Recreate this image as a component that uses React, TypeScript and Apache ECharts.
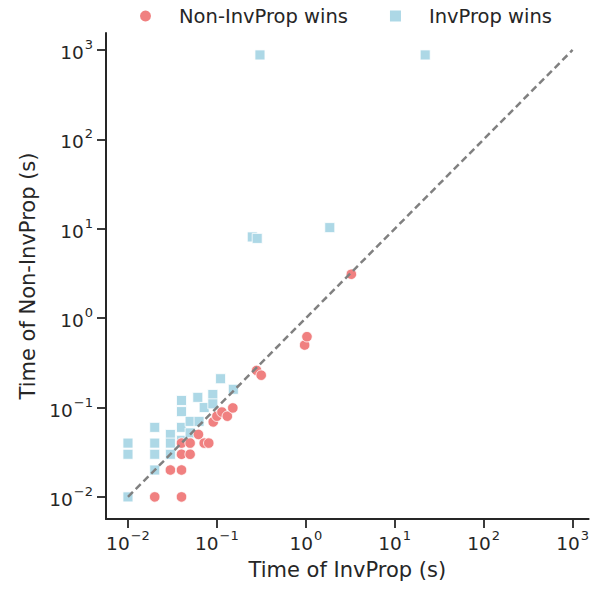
import React, { useEffect, useRef } from "react";
import * as echarts from "echarts";

// Seconds
const invPropX = [0.01, 0.01, 0.01, 0.02, 0.02, 0.02, 0.02, 0.03, 0.03, 0.03, 0.04, 0.04, 0.04, 0.04, 0.05, 0.05, 0.061, 0.063, 0.072, 0.09, 0.09, 0.11, 0.153, 0.25, 0.284, 0.305, 1.86, 22];
const invPropY = [0.04, 0.03, 0.01, 0.06, 0.04, 0.03, 0.02, 0.05, 0.04, 0.03, 0.12, 0.09, 0.06, 0.043, 0.07, 0.052, 0.13, 0.07, 0.1, 0.14, 0.11, 0.21, 0.16, 8.1, 7.8, 880, 10.3, 880];

const nonInvX = [0.02, 0.04, 0.03, 0.04, 0.04, 0.05, 0.04, 0.05, 0.062, 0.072, 0.081, 0.091, 0.1, 0.114, 0.131, 0.151, 0.28, 0.315, 0.97, 1.03, 3.25];
const nonInvY = [0.01, 0.01, 0.02, 0.02, 0.03, 0.03, 0.04, 0.04, 0.05, 0.04, 0.04, 0.069, 0.08, 0.089, 0.08, 0.099, 0.26, 0.23, 0.5, 0.62, 3.1];

const diagonal = [0.01, 1000];
const tickExponents = [-2, -1, 0, 1, 2, 3];

const FONT = "DejaVu Sans";
const TEXT = "#262626";

const lg = (v: number) => Math.log10(v);

const labelFmt = (v: number) => {
  const e = Math.round(v);
  const s = e < 0 ? "\u2212" + -e : String(e);
  return `{b|10}{s|${s}}`;
};

const rich = {
  b: { fontSize: 18.5, fontFamily: FONT, color: TEXT, lineHeight: 24, verticalAlign: "bottom" },
  s: { fontSize: 13, fontFamily: FONT, color: TEXT, lineHeight: 24, verticalAlign: "top", padding: [0, 0, 10, 1] },
};

export default function App() {
  const ref = useRef<HTMLDivElement>(null);
  useEffect(() => {
    if (!ref.current) return;
    const chart = echarts.init(ref.current, undefined, { renderer: "svg" });
    const axisCommon = (name: string, isX: boolean) => ({
      type: "value",
      min: -2.247,
      max: isX ? 3.18 : 3.19,
      name,
      nameLocation: "middle",
      nameGap: isX ? 40 : 66,
      nameTextStyle: { fontSize: 21, fontFamily: FONT, color: TEXT },
      splitLine: { show: false },
      axisLine: { show: true, onZero: false, lineStyle: { color: TEXT, width: 2 } },
      axisTick: { show: true, customValues: tickExponents, length: 9, inside: false, lineStyle: { color: TEXT, width: 1.8 } },
      axisLabel: { customValues: tickExponents, formatter: labelFmt, rich, margin: isX ? 10 : 13 },
    });
    chart.setOption({
      animation: false,
      grid: { left: 106, right: 2, top: 33, bottom: 70, containLabel: false },
      legend: {
        top: 1,
        left: 133,
        itemWidth: 13,
        itemHeight: 13,
        itemGap: 40,
        textStyle: { fontSize: 19.5, fontFamily: FONT, color: TEXT, padding: [0, 0, 0, 22] },
        data: [
          { name: "Non-InvProp wins", icon: "circle", itemStyle: { color: "#F08080" } },
          { name: "InvProp wins", icon: "rect", itemStyle: { color: "#ADD8E6" } },
        ],
      },
      xAxis: axisCommon("Time of InvProp (s)", true),
      yAxis: axisCommon("Time of Non-InvProp (s)", false),
      series: [
        {
          name: "InvProp wins",
          type: "scatter",
          symbol: "rect",
          symbolSize: 10,
          itemStyle: { color: "#ADD8E6", borderColor: "#fff", borderWidth: 0.8, opacity: 1 },
          data: invPropX.map((x, i) => [lg(x), lg(invPropY[i])]),
          z: 2,
        },
        {
          name: "Non-InvProp wins",
          type: "scatter",
          symbol: "circle",
          symbolSize: 10.5,
          itemStyle: { color: "#F08080", borderColor: "#fff", borderWidth: 0.8, opacity: 1 },
          data: nonInvX.map((x, i) => [lg(x), lg(nonInvY[i])]),
          z: 3,
        },
        {
          type: "line",
          data: diagonal.map((v) => [lg(v), lg(v)]),
          symbol: "none",
          lineStyle: { color: "#808080", width: 2.5, type: [7, 4] },
          silent: true,
          z: 4,
        },
      ],
    });
    return () => chart.dispose();
  }, []);
  return <div ref={ref} style={{ width: 592, height: 589, position: "absolute", left: 0, top: 0 }} />;
}
